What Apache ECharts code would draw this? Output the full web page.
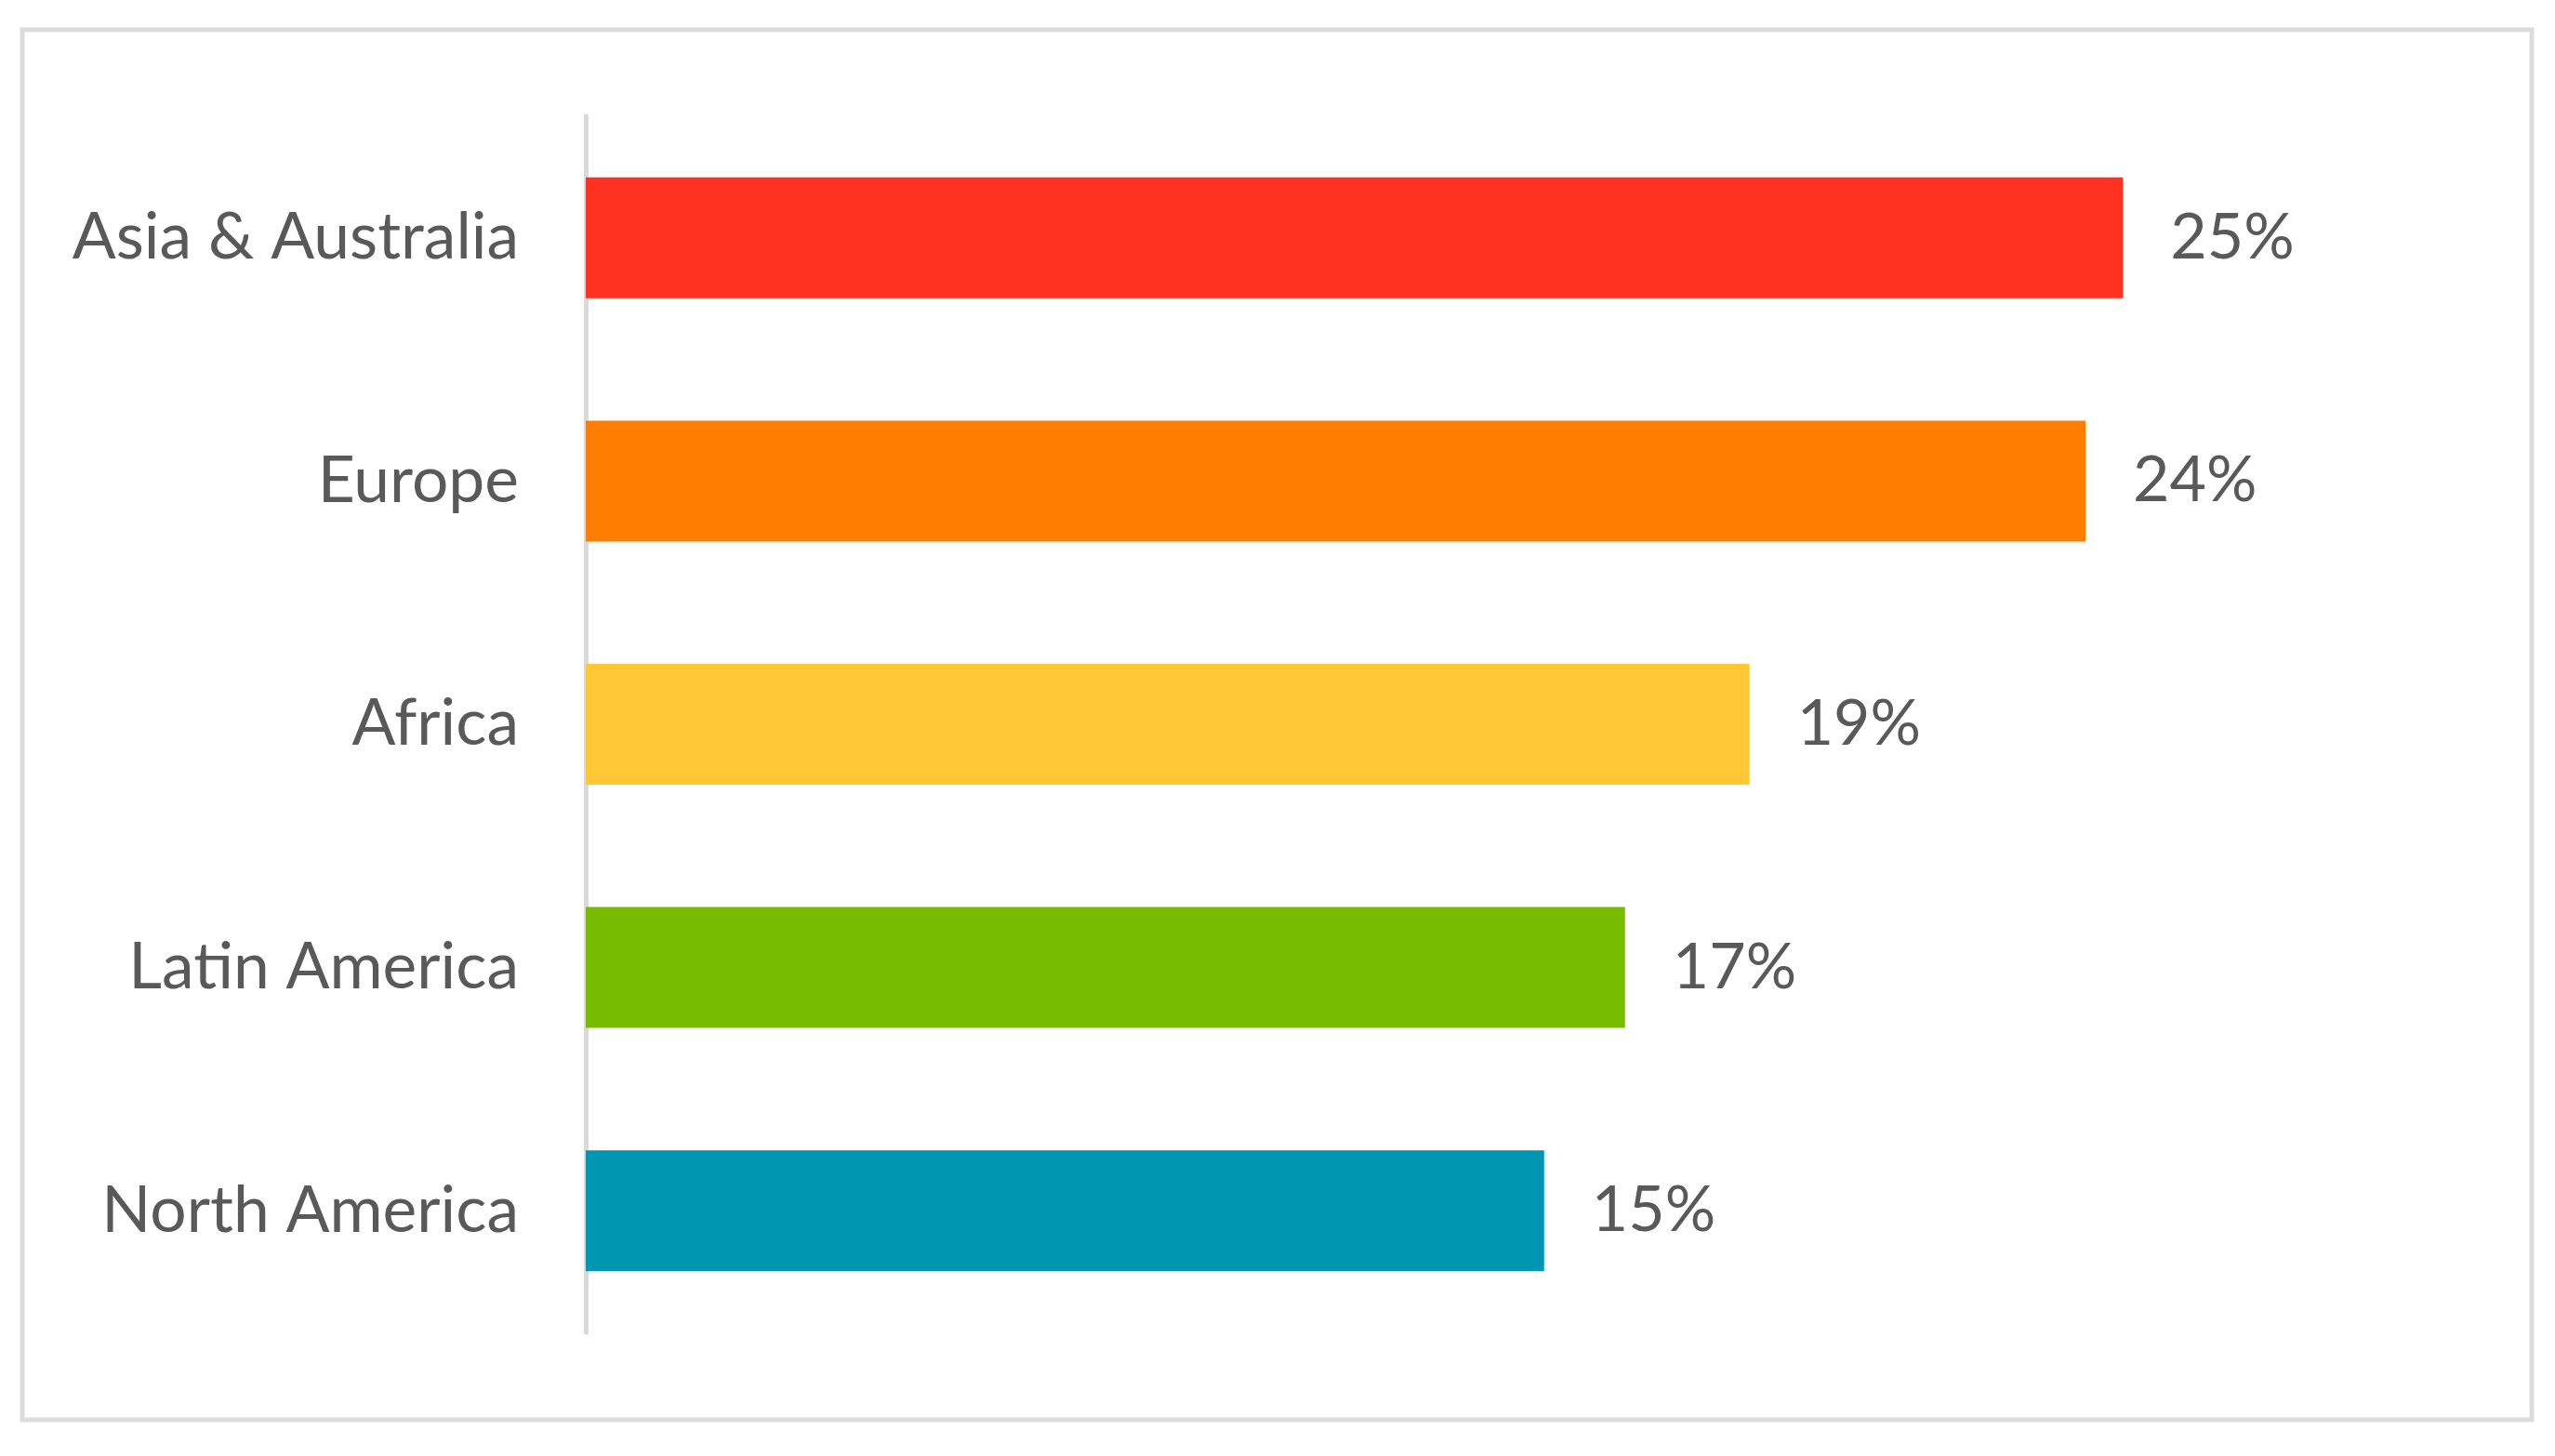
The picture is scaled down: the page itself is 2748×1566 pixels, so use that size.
<!DOCTYPE html>
<html>
<head>
<meta charset="utf-8">
<script src="https://cdn.jsdelivr.net/npm/echarts@6/dist/echarts.min.js"></script>
<style>
html,body{margin:0;padding:0;background:#fff;}
#chart{width:2748px;height:1566px;}
</style>
</head>
<body>
<div id="chart"></div>
<script>
const categories = ['North America', 'Latin America', 'Africa', 'Europe', 'Asia & Australia'];
const shares = [15.4, 16.7, 18.7, 24.1, 24.7];
const barColors = ['#0095B0', '#77BC00', '#FFC733', '#FF7D00', '#FF3120'];

const chart = echarts.init(document.getElementById('chart'));
chart.setOption({
  backgroundColor: '#ffffff',
  animation: false,
  graphic: [{
    type: 'rect',
    shape: { x: 24, y: 32, width: 2699, height: 1495 },
    style: { fill: 'none', stroke: '#dcdcdc', lineWidth: 5 },
    silent: true
  }],
  grid: { left: 630, top: 125, bottom: 133, right: 110 },
  xAxis: {
    type: 'value',
    min: 0,
    max: 30,
    show: false
  },
  yAxis: {
    type: 'category',
    data: categories,
    axisLine: { show: true, lineStyle: { color: '#d9d9d9', width: 5 } },
    axisTick: { show: false },
    axisLabel: {
      margin: 72,
      fontFamily: 'Lato',
      fontSize: 69.5,
      color: '#595959'
    }
  },
  series: [{
    type: 'bar',
    data: shares.map((v, i) => ({ value: v, itemStyle: { color: barColors[i] } })),
    barWidth: 130,
    label: {
      show: true,
      position: 'right',
      distance: 51,
      fontFamily: 'Lato',
      fontSize: 68,
      color: '#595959',
      formatter: p => Math.round(p.value) + '%'
    }
  }]
});
</script>
</body>
</html>
